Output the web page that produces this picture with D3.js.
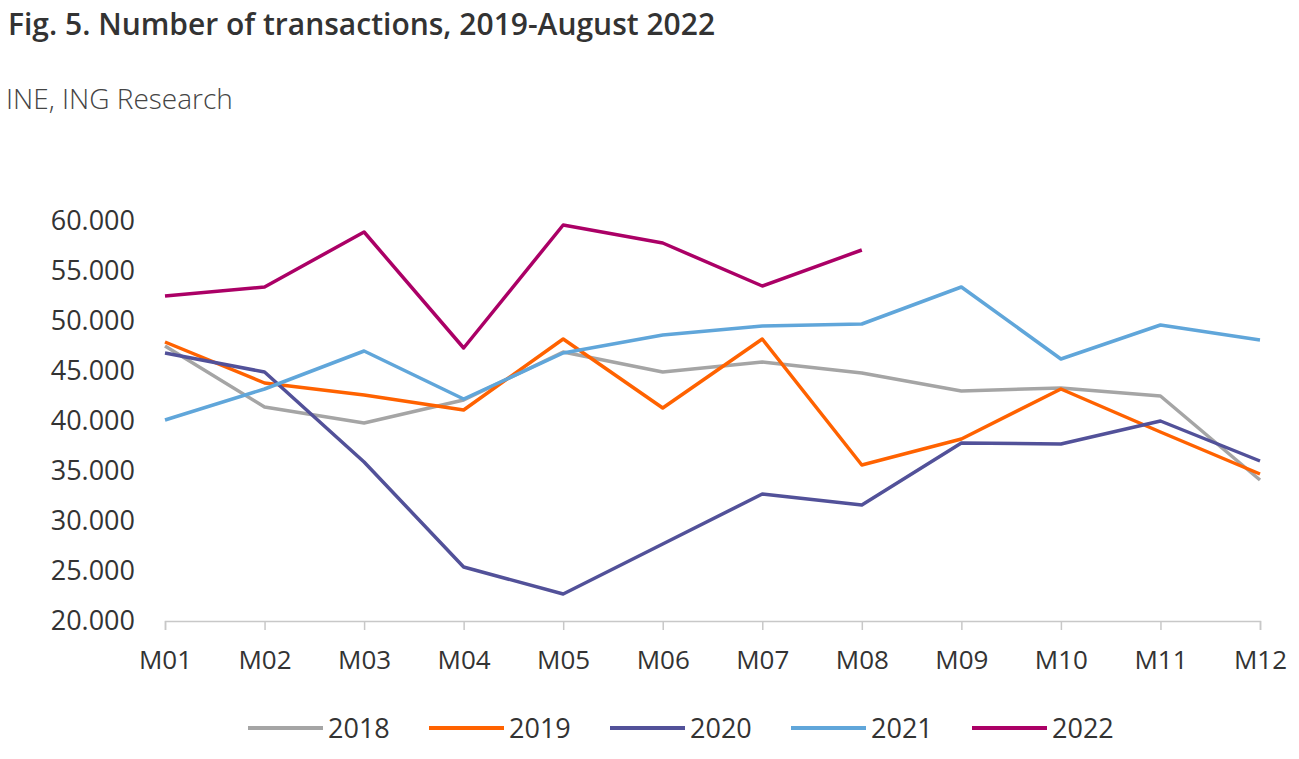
<!DOCTYPE html>
<html>
<head>
<meta charset="utf-8">
<script src="https://cdn.jsdelivr.net/npm/d3@7"></script>
<style>
  body { margin: 0; background: #fff; }
  svg { display: block; font-family: "Open Sans", "Noto Sans", sans-serif; }
</style>
</head>
<body>
<div id="chart"></div>
<script>
const months = ["M01", "M02", "M03", "M04", "M05", "M06", "M07", "M08", "M09", "M10", "M11", "M12"];
const years = ["2018", "2019", "2020", "2021", "2022"];
const yTicks = [20000, 25000, 30000, 35000, 40000, 45000, 50000, 55000, 60000];

const v2018 = [47500, 41400, 39800, 42100, 46900, 44900, 45900, 44800, 43000, 43300, 42500, 34100];
const v2019 = [47900, 43800, 42600, 41100, 48200, 41300, 48200, 35600, 38200, 43200, 38900, 34700];
const v2020 = [46800, 44900, 35900, 25400, 22700, 27700, 32700, 31600, 37800, 37700, 40000, 36000];
const v2021 = [40100, 43200, 47000, 42200, 46800, 48600, 49500, 49700, 53400, 46200, 49600, 48100];
const v2022 = [52500, 53400, 58900, 47300, 59600, 57800, 53500, 57100];

const colors = ["#a5a5a5", "#ff6200", "#525199", "#60a6da", "#ab0066"];
const series = [v2018, v2019, v2020, v2021, v2022];

const W = 1299, H = 759;
const margin = { top: 221, right: 39, bottom: 138, left: 165 };
const width = W - margin.left - margin.right;
const height = H - margin.top - margin.bottom;

const svg = d3.select("#chart").append("svg")
  .attr("width", W)
  .attr("height", H);

// title and source
svg.append("text")
  .attr("x", 8).attr("y", 35)
  .style("font-size", "30px")
  .style("font-weight", 600)
  .style("fill", "#333")
  .text("Fig. 5. Number of transactions, 2019-August 2022");

svg.append("text")
  .attr("x", 6).attr("y", 109)
  .style("font-size", "28px")
  .style("font-weight", 300)
  .style("fill", "#444")
  .text("INE, ING Research");

const g = svg.append("g")
  .attr("transform", "translate(" + margin.left + "," + margin.top + ")");

const x = d3.scalePoint()
  .domain(months)
  .range([0, width]);

const y = d3.scaleLinear()
  .domain([20000, 60000])
  .range([height, 0]);

// x axis
const xAxis = g.append("g")
  .attr("transform", "translate(0," + height + ")")
  .call(d3.axisBottom(x).tickSize(9).tickPadding(21));
xAxis.select(".domain").attr("stroke", "#c8c8c8").attr("stroke-width", 1.5);
xAxis.selectAll(".tick line").attr("stroke", "#c8c8c8").attr("stroke-width", 1.5);
xAxis.selectAll(".tick text")
  .style("font-size", "26px")
  .style("fill", "#333")
  .style("font-family", "\"Open Sans\", sans-serif");

// y axis (labels only)
const fmt = d => d3.format(",")(d).replace(/,/g, ".");
const yAxis = g.append("g")
  .call(d3.axisLeft(y).tickValues(yTicks).tickFormat(fmt).tickSize(0).tickPadding(30));
yAxis.select(".domain").remove();
yAxis.selectAll(".tick text")
  .style("font-size", "27px")
  .style("fill", "#333")
  .style("font-family", "\"Open Sans\", sans-serif");

// lines
const line = d3.line()
  .x((d, i) => x(months[i]))
  .y(d => y(d));

g.selectAll(".series")
  .data(series)
  .enter()
  .append("path")
  .attr("class", "series")
  .attr("d", d => line(d))
  .attr("fill", "none")
  .attr("stroke", (d, i) => colors[i])
  .attr("stroke-width", 3.5)
  .attr("stroke-linejoin", "round");

// legend
const legend = svg.append("g").attr("transform", "translate(248,728)");
const item = legend.selectAll(".item")
  .data(years)
  .enter()
  .append("g")
  .attr("transform", (d, i) => "translate(" + (i * 181) + ",0)");
item.append("line")
  .attr("x1", 0).attr("x2", 75)
  .attr("y1", 0).attr("y2", 0)
  .attr("stroke", (d, i) => colors[i])
  .attr("stroke-width", 4);
item.append("text")
  .attr("x", 80).attr("y", 9.5)
  .style("font-size", "27px")
  .style("fill", "#333")
  .text(d => d);
</script>
</body>
</html>
